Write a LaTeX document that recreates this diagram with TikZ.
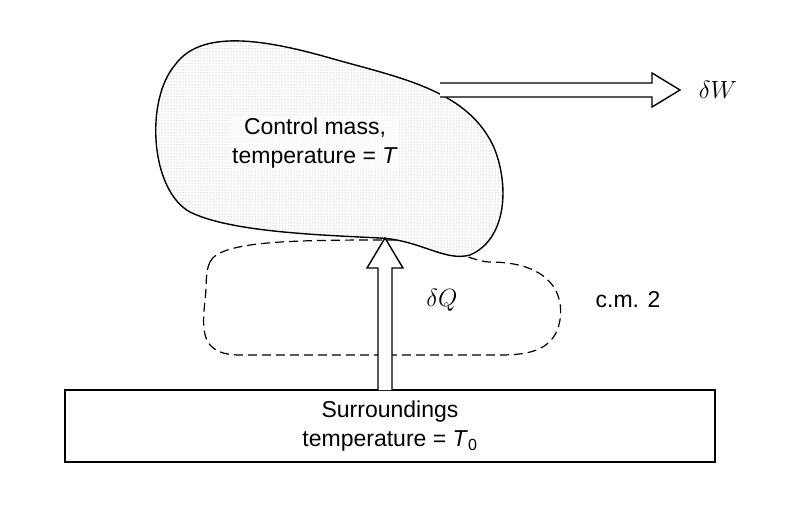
\documentclass[tikz,border=0pt]{standalone}
\usepackage{fontspec}
\setmainfont{Liberation Sans}
\usetikzlibrary{patterns}
\begin{document}
\begin{tikzpicture}[x=1pt,y=-1pt,
  lbl/.style={font=\fontsize{23}{29}\selectfont, align=center},
  hollow/.style={draw=black,line width=1.4pt,fill=white}]
\useasboundingbox (0,0) rectangle (787,517);
% dashed c.m. 2
\draw[dash pattern=on 9pt off 5pt,line width=1.2pt] (210,262) .. controls (220,240) and (300,240) .. (395,240)
  .. controls (440,240) and (470,262) .. (490,262)
  .. controls (540,262) and (565,285) .. (560,320)
  .. controls (555,350) and (530,355) .. (500,355)
  -- (240,355) .. controls (200,355) and (202,330) .. (205,300)
  .. controls (207,285) and (205,272) .. (210,262);
% control mass blob
\def\blob{(175,65) .. controls (200,30) and (260,38) .. (330,58)
  .. controls (400,78) and (470,90) .. (495,150)
  .. controls (510,190) and (505,240) .. (470,255)
  .. controls (445,262) and (420,240) .. (380,238)
  .. controls (320,235) and (230,232) .. (190,212)
  .. controls (150,190) and (145,100) .. (175,65) -- cycle}
\path[fill=white] \blob;
\draw[line width=1.4pt,pattern=dots,pattern color=gray!80] \blob;
\node[lbl,fill=white,fill opacity=0.6,text opacity=1,inner sep=1pt] (cm) at (315,143) {Control mass,\\ temperature = \textit{T}};
% surroundings
\node[draw,line width=1.2pt,minimum width=650pt,minimum height=72pt,lbl] (sur) at (390,426) {Surroundings\\ temperature = \textit{T}\textsubscript{0}};
% heat arrow
\draw[hollow] (378,390) -- (378,268) -- (367,268) -- (385,238) -- (403,268) -- (392,268) -- (392,390);
\node[font=\fontsize{24}{28}\selectfont] (dq) at (442,300) {$\delta Q$};
\node[lbl] (cm2) at (628,300) {c.m. 2};
% work arrow
\draw[hollow] (440,83) -- (652,83) -- (652,73) -- (680,90) -- (652,107) -- (652,97) -- (440,97);
\node[font=\fontsize{24}{28}\selectfont] (dw) at (718,90) {$\delta W$};
\end{tikzpicture}
\end{document}
